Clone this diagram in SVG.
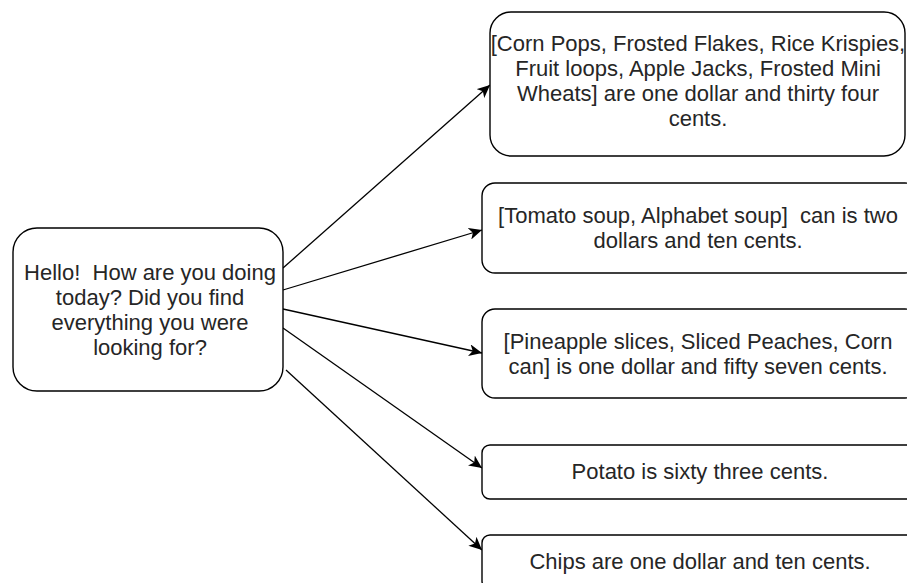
<svg xmlns="http://www.w3.org/2000/svg" width="907" height="583" viewBox="0 0 907 583">
<style>
.box{fill:#fff;stroke:#000;stroke-width:1.4}
.t{font-family:"Liberation Sans",Arial,sans-serif;font-size:22px;fill:#262626;text-anchor:middle;white-space:pre}
.c{stroke:#000;stroke-width:1.3;fill:none;marker-end:url(#ah)}
</style>
<defs>
<marker id="ah" markerUnits="userSpaceOnUse" markerWidth="14" markerHeight="12" refX="13" refY="6" orient="auto">
<path d="M0,0 L13,6 L0,12 L3.5,6 Z" fill="#000"/>
</marker>
</defs>
<rect width="907" height="583" fill="#fff"/>
<g id="connectors">
<line class="c" x1="283" y1="268" x2="490" y2="85"/>
<line class="c" x1="283" y1="290" x2="482" y2="230"/>
<line class="c" x1="283" y1="309" x2="482" y2="353"/>
<line class="c" x1="283" y1="328" x2="482" y2="468"/>
<line class="c" x1="286" y1="370" x2="482" y2="550"/>
</g>
<g id="greeting">
<rect class="box" x="13" y="228" width="270" height="163" rx="24"/>
<text class="t" x="150" y="280">Hello!  How are you doing</text>
<text class="t" x="150" y="305">today? Did you find</text>
<text class="t" x="150" y="330">everything you were</text>
<text class="t" x="150" y="355">looking for?</text>
</g>
<g id="cereal">
<rect class="box" x="490" y="12" width="415" height="144" rx="21"/>
<text class="t" x="698" y="51">[Corn Pops, Frosted Flakes, Rice Krispies,</text>
<text class="t" x="698" y="76">Fruit loops, Apple Jacks, Frosted Mini</text>
<text class="t" x="698" y="101">Wheats] are one dollar and thirty four</text>
<text class="t" x="698" y="126">cents.</text>
</g>
<g id="soup">
<rect class="box" x="482" y="183" width="436" height="90" rx="13"/>
<text class="t" x="698" y="223">[Tomato soup, Alphabet soup]  can is two</text>
<text class="t" x="698" y="248">dollars and ten cents.</text>
</g>
<g id="canned">
<rect class="box" x="482" y="309" width="436" height="89" rx="13"/>
<text class="t" x="698" y="349">[Pineapple slices, Sliced Peaches, Corn</text>
<text class="t" x="698" y="374">can] is one dollar and fifty seven cents.</text>
</g>
<g id="potato">
<rect class="box" x="482" y="445" width="436" height="54" rx="8"/>
<text class="t" x="700" y="479">Potato is sixty three cents.</text>
</g>
<g id="chips">
<rect class="box" x="482" y="535" width="436" height="54" rx="8"/>
<text class="t" x="700" y="569">Chips are one dollar and ten cents.</text>
</g>
</svg>
